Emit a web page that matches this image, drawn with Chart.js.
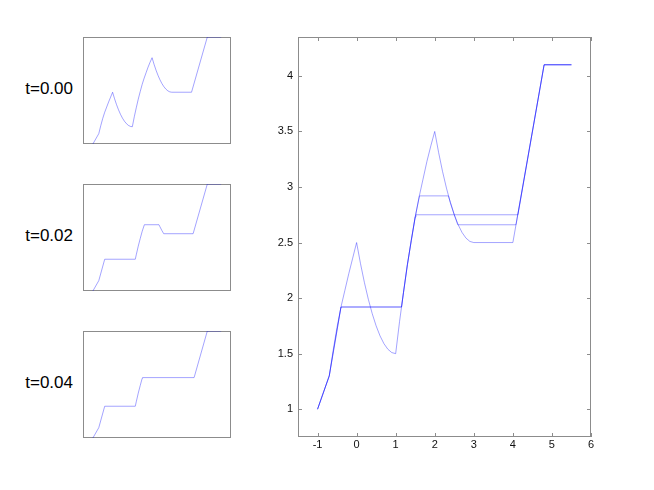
<!DOCTYPE html>
<html>
<head>
<meta charset="utf-8">
<title>t=0.00 / 0.02 / 0.04</title>
<script src="https://cdn.jsdelivr.net/npm/chart.js@4.4.1/dist/chart.umd.min.js"></script>
<style>
  html, body { margin: 0; padding: 0; background: #fff; }
  #wrap { position: relative; width: 654px; height: 490px; overflow: hidden; }
  canvas { position: absolute; }
  .lbl { position: absolute; left: 0; width: 73px; text-align: right;
         font: 17px "Liberation Sans", Arial, sans-serif; line-height: 20px; color: #000; }
</style>
</head>
<body>
<div id="wrap">
  <div class="lbl" style="top:79px">t=0.00</div>
  <div class="lbl" style="top:226px">t=0.02</div>
  <div class="lbl" style="top:373px">t=0.04</div>
  <canvas id="s0" width="148" height="107" style="left:83px;top:37px"></canvas>
  <canvas id="s1" width="148" height="107" style="left:83px;top:184px"></canvas>
  <canvas id="s2" width="148" height="107" style="left:83px;top:331px"></canvas>
  <canvas id="big" width="404" height="490" style="left:250px;top:0"></canvas>
</div>
<script>
  // tick labels of the big panel
  var xTicks = [-1, 0, 1, 2, 3, 4, 5, 6];
  var yTicks = [1, 1.5, 2, 2.5, 3, 3.5, 4];

  // t = 0.00
  var t0X = [-1, -0.7, -0.6, -0.5, -0.4, -0.3, -0.2, -0.1, 0,
             0.1, 0.2, 0.3, 0.4, 0.5, 0.6, 0.7, 0.8, 0.9, 1,
             1.1, 1.2, 1.3, 1.4, 1.5, 1.6, 1.7, 1.8, 1.9, 2,
             2.1, 2.2, 2.3, 2.4, 2.5, 2.6, 2.7, 2.8, 2.9, 3,
             4, 4.8, 5.5];
  var t0Y = [1, 1.3, 1.53, 1.74, 1.92, 2.07, 2.22, 2.36, 2.5,
             2.31, 2.14, 1.99, 1.86, 1.75, 1.66, 1.59, 1.54, 1.51, 1.5,
             1.79, 2.05, 2.3, 2.52, 2.73, 2.91, 3.07, 3.23, 3.37, 3.5,
             3.31, 3.14, 2.99, 2.86, 2.75, 2.66, 2.59, 2.54, 2.51, 2.5,
             2.5, 4.1, 4.1];

  // t = 0.02
  var t1X = [-1, -0.7, -0.4, 1.15, 1.2, 1.3, 1.4, 1.5, 1.61, 2.35, 2.4, 2.5, 2.59, 4.08, 4.8, 5.5];
  var t1Y = [1, 1.3, 1.92, 1.92, 2.05, 2.3, 2.52, 2.73, 2.92, 2.92, 2.86, 2.75, 2.66, 2.66, 4.1, 4.1];

  // t = 0.04
  var t2X = [-1, -0.7, -0.4, 1.15, 1.2, 1.3, 1.4, 1.5, 1.52, 4.13, 4.8, 5.5];
  var t2Y = [1, 1.3, 1.92, 1.92, 2.05, 2.3, 2.52, 2.73, 2.75, 2.75, 4.1, 4.1];

  var LINE = "rgba(0, 0, 255, 0.36)";
  var FRAME = "#8c8c8c";
  var FONT = "'Liberation Sans', Arial, sans-serif";

  function pts(xs, ys) {
    return xs.map(function (x, i) { return { x: x, y: ys[i] }; });
  }

  function series(xs, ys) {
    return {
      data: pts(xs, ys),
      showLine: true,
      borderColor: LINE,
      borderWidth: 1,
      pointRadius: 0,
      fill: false,
      tension: 0,
      clip: 2
    };
  }

  // box round the plot area, with short ticks pointing inward
  var framePlugin = {
    id: "frame",
    beforeDatasetsDraw: function (chart, args, opts) {
      var ctx = chart.ctx;
      var a = chart.chartArea;
      var l = Math.round(a.left), t = Math.round(a.top);
      var r = Math.round(a.right), b = Math.round(a.bottom);
      ctx.save();
      ctx.strokeStyle = FRAME;
      ctx.lineWidth = 1;
      ctx.strokeRect(l + 0.5, t + 0.5, r - l - 1, b - t - 1);
      if (opts.ticks) {
        var len = 4;
        var xs = chart.scales.x, ys = chart.scales.y;
        ctx.beginPath();
        xs.ticks.forEach(function (tk) {
          var p = Math.round(xs.getPixelForValue(tk.value)) + 0.5;
          ctx.moveTo(p, b); ctx.lineTo(p, b - len);
          ctx.moveTo(p, t); ctx.lineTo(p, t + len);
        });
        ys.ticks.forEach(function (tk) {
          var p = Math.round(ys.getPixelForValue(tk.value)) + 0.5;
          ctx.moveTo(l, p); ctx.lineTo(l + len, p);
          ctx.moveTo(r, p); ctx.lineTo(r - len, p);
        });
        ctx.stroke();
      }
      ctx.restore();
    }
  };

  function smallChart(id, xs, ys) {
    new Chart(document.getElementById(id), {
      type: "scatter",
      data: { datasets: [series(xs, ys)] },
      options: {
        responsive: false,
        animation: false,
        layout: { padding: 0 },
        plugins: { legend: { display: false }, tooltip: { enabled: false }, frame: { ticks: false } },
        scales: {
          x: { type: "linear", min: -1.5, max: 6, display: false },
          y: { type: "linear", min: 1, max: 4.1, display: false }
        }
      },
      plugins: [framePlugin]
    });
  }

  smallChart("s0", t0X, t0Y);
  smallChart("s1", t1X, t1Y);
  smallChart("s2", t2X, t2Y);

  new Chart(document.getElementById("big"), {
    type: "scatter",
    data: { datasets: [series(t0X, t0Y), series(t1X, t1Y), series(t2X, t2Y)] },
    options: {
      responsive: false,
      animation: false,
      layout: { padding: { left: 0, right: 63, top: 37, bottom: 0 } },
      plugins: { legend: { display: false }, tooltip: { enabled: false }, frame: { ticks: true } },
      scales: {
        x: {
          type: "linear",
          min: -1.5,
          max: 6,
          afterBuildTicks: function (s) { s.ticks = xTicks.map(function (v) { return { value: v }; }); },
          afterFit: function (s) { s.height = 53; },
          grid: { display: false, drawTicks: false },
          border: { display: false },
          ticks: {
            padding: 1,
            color: "#111",
            maxRotation: 0,
            font: { family: FONT, size: 11 },
            callback: function (v) { return String(v); }
          }
        },
        y: {
          type: "linear",
          min: 0.75,
          max: 4.35,
          afterBuildTicks: function (s) { s.ticks = yTicks.map(function (v) { return { value: v }; }); },
          afterFit: function (s) { s.width = 48; },
          grid: { display: false, drawTicks: false },
          border: { display: false },
          ticks: {
            padding: 5,
            color: "#111",
            font: { family: FONT, size: 11 },
            callback: function (v) { return String(v); }
          }
        }
      }
    },
    plugins: [framePlugin]
  });
</script>
</body>
</html>
